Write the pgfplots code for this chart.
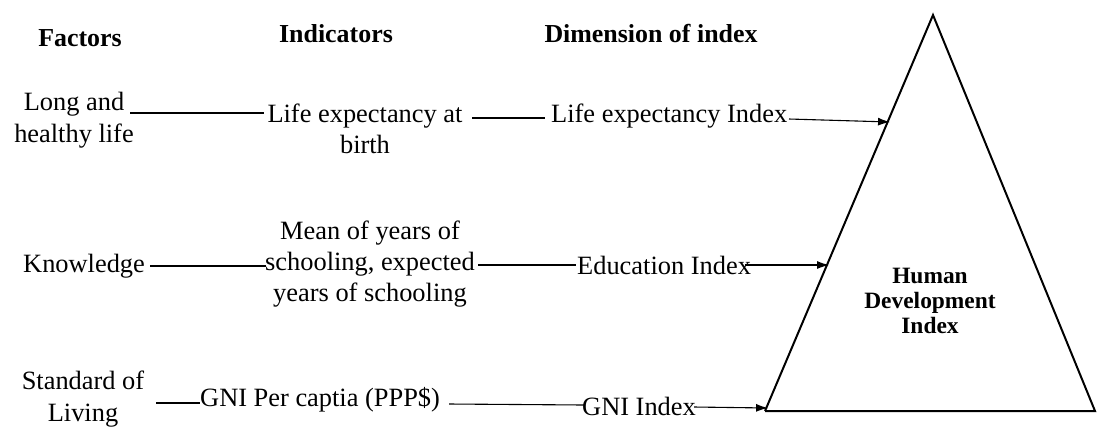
\documentclass[border=0pt]{standalone}
\usepackage{pgfplots}
\pgfplotsset{compat=1.18}
\usepackage{fontspec}
\setmainfont{Liberation Serif}
\usetikzlibrary{arrows.meta}
\begin{document}
\begin{tikzpicture}[
  lbl/.style={font=\fontsize{26.5}{31.5}\selectfont, inner sep=0pt, align=center},
  hdr/.style={font=\fontsize{26}{30}\selectfont\bfseries, inner sep=0pt, align=center},
]
\begin{axis}[
  scale only axis, width=1097bp, height=425bp,
  xmin=0, xmax=1097, ymin=0, ymax=425, y dir=reverse,
  axis lines=none, clip=false,
]
\path (rel axis cs:0,0) rectangle (rel axis cs:1,1);
% headers
\node[hdr] at (axis cs:80,38) {Factors};
\node[hdr] at (axis cs:336,34) {Indicators};
\node[hdr] at (axis cs:651,34) {Dimension of index};
% row 1
\node[lbl] at (axis cs:74,120) {Long and\\healthy life};
\node[lbl] at (axis cs:365,129) {Life expectancy at\\birth};
\node[lbl, anchor=west] at (axis cs:551,116) {Life expectancy Index};
\addplot[black, line width=1.1pt] coordinates {(130,113) (264,113)};
\addplot[black, line width=1.1pt] coordinates {(472,118) (545,118)};
\addplot[black, line width=1.1pt, -{Latex[length=12pt,width=8pt]}] coordinates {(789,119) (890,122)};
% row 2
\node[lbl, anchor=west] at (axis cs:23,266) {Knowledge};
\node[lbl] at (axis cs:370,264) {Mean of years of\\schooling, expected\\years of schooling};
\node[lbl, anchor=west] at (axis cs:577,265) {Education Index};
\addplot[black, line width=1.1pt] coordinates {(150,266) (266,266)};
\addplot[black, line width=1.1pt] coordinates {(478,265) (576,265)};
\addplot[black, line width=1.1pt, -{Latex[length=12pt,width=8pt]}] coordinates {(745,265) (829,265)};
% row 3
\node[lbl] at (axis cs:83,399) {Standard of\\Living};
\node[lbl, anchor=west] at (axis cs:200,400) {GNI Per captia (PPP\$)};
\node[lbl, anchor=west] at (axis cs:582,406) {GNI Index};
\addplot[black, line width=1.1pt] coordinates {(156,403) (200,403)};
\addplot[black, line width=1.1pt] coordinates {(449,404) (584,405)};
\addplot[black, line width=1.1pt, -{Latex[length=12pt,width=8pt]}] coordinates {(694,407) (768,408)};
% triangle
\addplot[black, line width=2pt, line join=miter] coordinates {(765,411) (933,15) (1095,411) (765,411)};
\node[font=\fontsize{23.5}{25.5}\selectfont\bfseries, inner sep=0pt, align=center] at (axis cs:930,301) {Human\\Development\\Index};
\end{axis}
\end{tikzpicture}
\end{document}
